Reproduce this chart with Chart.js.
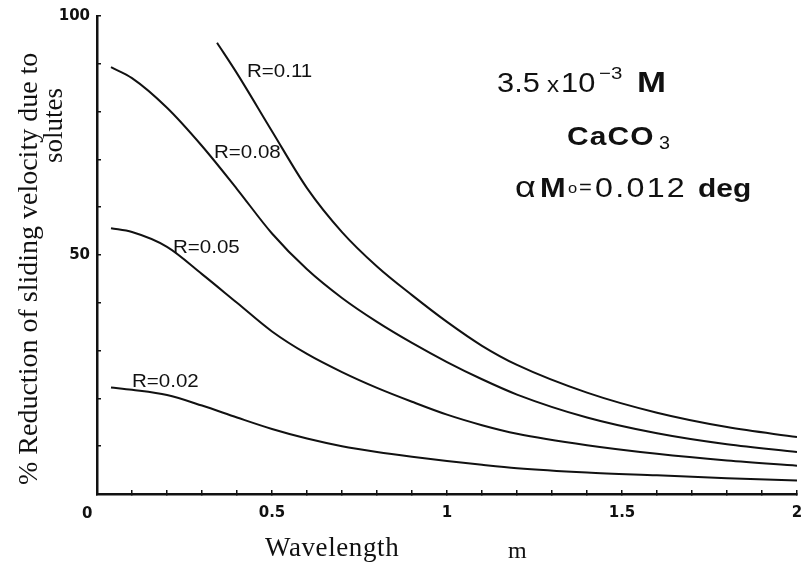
<!DOCTYPE html>
<html>
<head>
<meta charset="utf-8">
<script src="https://cdn.jsdelivr.net/npm/chart.js@4/dist/chart.umd.min.js"></script>
<style>
  html, body { margin: 0; padding: 0; background: #ffffff; overflow: hidden; }
  #wrap { width: 801px; height: 566px; }
  canvas { display: block; }
</style>
</head>
<body>
<div id="wrap"><canvas id="c" width="801" height="566"></canvas></div>
<script>
// ---- data ----
const wavelength = [0.04, 0.1, 0.2, 0.3, 0.4, 0.5, 0.6, 0.7, 0.8, 0.9, 1.0, 1.1, 1.2, 1.4, 1.6, 1.8, 2.0];
const reductionR002 = [22.3, 21.8, 20.7, 18.5, 16.0, 13.6, 11.6, 10.0, 8.8, 7.8, 6.9, 6.1, 5.4, 4.5, 3.9, 3.3, 2.8];
const reductionR005 = [55.6, 54.8, 51.7, 46.0, 40.0, 34.0, 29.3, 25.5, 22.2, 19.3, 16.6, 14.4, 12.6, 10.2, 8.4, 7.0, 5.9];
const reductionR008 = [89.3, 87.0, 80.8, 72.8, 63.8, 54.5, 47.0, 41.0, 36.0, 31.6, 27.6, 24.0, 20.8, 16.0, 12.7, 10.4, 8.8];
const wavelengthR011 = [0.343, 0.4, 0.5, 0.6, 0.7, 0.8, 0.9, 1.0, 1.1, 1.2, 1.4, 1.6, 1.8, 2.0];
const reductionR011 = [94.4, 88.0, 75.9, 64.0, 54.8, 47.6, 41.6, 36.0, 31.0, 27.0, 21.2, 17.0, 14.0, 11.9];
const seriesLabels = ['R=0.02', 'R=0.05', 'R=0.08', 'R=0.11'];
const xTickLabels = [0.5, 1, 1.5, 2];
const yTickLabels = [50, 100];
const xTitle = 'Wavelength';
const xUnit = 'm';
const yTitleLines = ['% Reduction of sliding velocity due to', 'solutes'];

const INK = '#111111';
const pts = (xs, ys) => xs.map((x, i) => ({ x: x, y: ys[i] }));

function ds(label, xs, ys) {
  return {
    label: label,
    data: pts(xs, ys),
    borderColor: INK,
    borderWidth: 2,
    pointRadius: 0,
    fill: false,
    showLine: true,
    cubicInterpolationMode: 'monotone'
  };
}

const near = (v, list) => list.some(t => Math.abs(v - t) < 1e-6);
const SANS = '"Liberation Sans", Arial, sans-serif';
const SERIF = '"Liberation Serif", "Times New Roman", serif';

const textPlugin = {
  id: 'textPlugin',
  afterDraw(chart) {
    const ctx = chart.ctx;
    ctx.save();
    ctx.fillStyle = INK;
    ctx.textBaseline = 'alphabetic';
    ctx.textAlign = 'left';
    const put = (s, x, y, font, sx, ls) => {
      ctx.save();
      ctx.font = font;
      ctx.letterSpacing = (ls || 0) + 'px';
      ctx.translate(x, y);
      ctx.scale(sx || 1, 1);
      ctx.fillText(s, 0, 0);
      ctx.restore();
    };
    // curve labels
    const lf = '19px ' + SANS;
    put(seriesLabels[3], 247, 77, lf, 1.08, 0);
    put(seriesLabels[2], 214, 158, lf, 1.08, 0);
    put(seriesLabels[1], 173, 253, lf, 1.08, 0);
    put(seriesLabels[0], 132, 387, lf, 1.08, 0);

    // origin label
    put('0', 82, 518, 'bold 15px "DejaVu Sans", ' + SANS, 1, 0);

    // annotation block
    put('3.5', 497, 92, '28px ' + SANS, 1.1, 0);
    put('x', 547, 92, '22px ' + SANS, 1.1, 0);
    put('10', 561, 92, '28px ' + SANS, 1.1, 0);
    put('\u22123', 599, 79, '17px ' + SANS, 1.2, 0);
    put('M', 637, 92, 'bold 29px ' + SANS, 1.2, 0);

    put('CaCO', 567, 145, 'bold 26px ' + SANS, 1.15, 1);
    put('3', 659, 149, '18px ' + SANS, 1.1, 0);

    put('\u03b1', 515, 197, '30px ' + SANS, 1.2, 0);
    put('M', 540, 197, 'bold 28px ' + SANS, 1.1, 0);
    put('o', 568, 193, '15px ' + SANS, 1.1, 0);
    put('=', 579, 194, '20px ' + SANS, 1.1, 0);
    put('0.012', 595, 197, '28px ' + SANS, 1.15, 2);
    put('deg', 698, 197, 'bold 26px ' + SANS, 1.15, 0);

    // x-axis title
    put(xTitle, 265, 556, '27px ' + SERIF, 1, 0.6);
    put(xUnit, 508, 558, '24px ' + SERIF, 1, 0);

    // y-axis title (rotated)
    ctx.font = '28px ' + SERIF;
    ctx.letterSpacing = '0px';
    ctx.save();
    ctx.translate(37, 485);
    ctx.rotate(-Math.PI / 2);
    ctx.fillText(yTitleLines[0], 0, 0);
    ctx.restore();
    ctx.font = '27px ' + SERIF;
    ctx.save();
    ctx.translate(62, 163);
    ctx.rotate(-Math.PI / 2);
    ctx.fillText(yTitleLines[1], 0, 0);
    ctx.restore();
    ctx.restore();
  }
};

const tickFont = { family: '"DejaVu Sans", "Liberation Sans", Arial, sans-serif', size: 15, weight: 'bold' };

const chart = new Chart(document.getElementById('c'), {
  type: 'scatter',
  data: {
    datasets: [
      ds(seriesLabels[0], wavelength, reductionR002),
      ds(seriesLabels[1], wavelength, reductionR005),
      ds(seriesLabels[2], wavelength, reductionR008),
      ds(seriesLabels[3], wavelengthR011, reductionR011)
    ]
  },
  options: {
    responsive: false,
    animation: false,
    events: [],
    layout: { autoPadding: false, padding: { left: 0, top: 16, right: 4, bottom: 0 } },
    plugins: { legend: { display: false }, tooltip: { enabled: false }, title: { display: false } },
    scales: {
      x: {
        type: 'linear', min: 0, max: 2, position: 'bottom',
        afterFit: s => { s.height = 72; s.paddingLeft = 0; s.paddingRight = 0; },
        border: { display: true, color: INK, width: 2.5 },
        grid: { drawOnChartArea: false, drawTicks: true, tickLength: -4, color: INK, lineWidth: 1.5 },
        ticks: {
          stepSize: 0.1, autoSkip: false, maxRotation: 0, padding: 14, color: INK, font: tickFont,
          callback: v => near(v, xTickLabels) ? String(v) : ''
        }
      },
      y: {
        type: 'linear', min: 0, max: 100, position: 'left',
        afterFit: s => { s.width = 97; s.paddingTop = 0; s.paddingBottom = 0; },
        border: { display: true, color: INK, width: 2.5 },
        grid: { drawOnChartArea: false, drawTicks: true, tickLength: -4, color: INK, lineWidth: 1.5 },
        ticks: {
          stepSize: 10, autoSkip: false, padding: 11, color: INK, font: tickFont,
          callback: v => near(v, yTickLabels) ? String(v) : ''
        }
      }
    }
  },
  plugins: [textPlugin]
});
</script>
</body>
</html>
